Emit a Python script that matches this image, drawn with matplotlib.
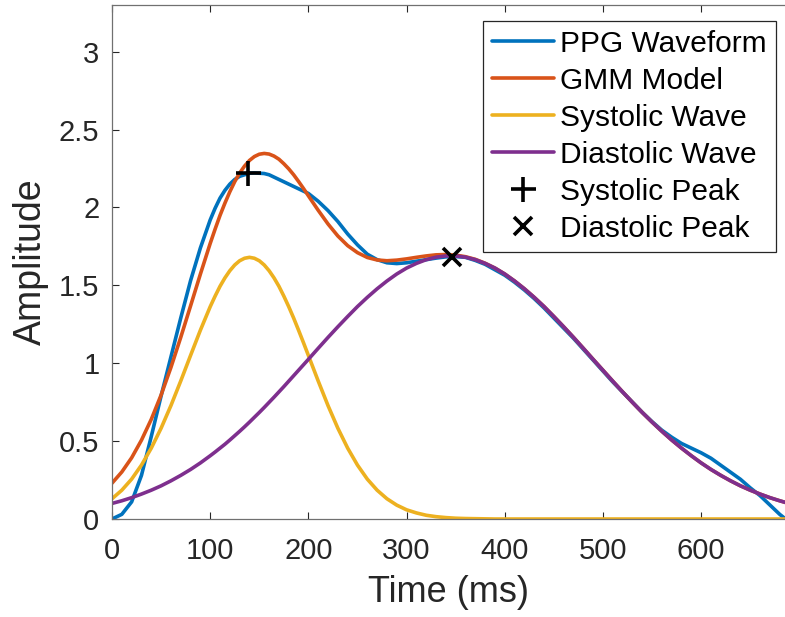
"""
PPG waveform decomposed with a two-Gaussian mixture (systolic + diastolic wave).
"""

import matplotlib
matplotlib.use("Agg")
import matplotlib.pyplot as plt
import numpy as np

# sampling times (ms) - finer around the systolic peak
time_ms = np.array([
    0, 10, 20, 30, 40, 50, 60, 70, 80, 90, 100,
    105, 110, 115, 120, 125, 130, 135, 140, 145, 150,
    155, 160, 165, 170, 175, 180, 185, 190, 195,
    200, 210, 220, 230, 240, 250, 260, 270, 280, 290,
    300, 310, 320, 330, 340, 350, 360, 370, 380, 390,
    400, 410, 420, 430, 440, 450, 460, 470, 480, 490,
    500, 510, 520, 530, 540, 550, 560, 570, 580, 590,
    600, 610, 620, 630, 640, 650, 660, 670, 680, 686,
])

ppg = np.array([
    0.00, 0.03, 0.11, 0.28, 0.53, 0.79, 1.04, 1.29, 1.53, 1.74, 1.92,
    1.995, 2.06, 2.11, 2.15, 2.18, 2.20, 2.21, 2.22, 2.222, 2.22,
    2.218, 2.21, 2.195, 2.18, 2.165, 2.15, 2.135, 2.12, 2.105,
    2.09, 2.04, 1.98, 1.91, 1.83, 1.76, 1.70, 1.665, 1.645, 1.64,
    1.645, 1.655, 1.665, 1.675, 1.683, 1.685, 1.68, 1.66, 1.635, 1.60,
    1.565, 1.52, 1.47, 1.415, 1.355, 1.29, 1.225, 1.16, 1.09, 1.02,
    0.95, 0.88, 0.815, 0.75, 0.685, 0.625, 0.57, 0.525, 0.485, 0.455,
    0.425, 0.39, 0.345, 0.30, 0.255, 0.20, 0.15, 0.09, 0.03, 0.00,
])

gmm = np.array([
    0.230, 0.302, 0.393, 0.506, 0.640, 0.796, 0.973, 1.166, 1.368, 1.572, 1.769,
    1.861, 1.949, 2.028, 2.101, 2.166, 2.221, 2.266, 2.302, 2.327, 2.342,
    2.347, 2.343, 2.330, 2.310, 2.281, 2.248, 2.210, 2.167, 2.122,
    2.075, 1.982, 1.894, 1.817, 1.755, 1.710, 1.679, 1.663, 1.658, 1.662,
    1.670, 1.680, 1.689, 1.696, 1.698, 1.694, 1.684, 1.667, 1.642, 1.611,
    1.573, 1.528, 1.478, 1.423, 1.364, 1.300, 1.234, 1.166, 1.096, 1.025,
    0.955, 0.885, 0.816, 0.749, 0.684, 0.622, 0.563, 0.507, 0.455, 0.406,
    0.360, 0.318, 0.280, 0.245, 0.213, 0.185, 0.160, 0.137, 0.117, 0.106,
])

systolic = np.array([
    0.130, 0.185, 0.256, 0.346, 0.455, 0.583, 0.728, 0.886, 1.050, 1.212, 1.363,
    1.431, 1.494, 1.548, 1.594, 1.631, 1.658, 1.674, 1.680, 1.674, 1.658,
    1.631, 1.594, 1.548, 1.494, 1.431, 1.363, 1.290, 1.212, 1.132,
    1.050, 0.886, 0.728, 0.583, 0.455, 0.346, 0.256, 0.185, 0.130, 0.089,
    0.059, 0.039, 0.024, 0.015, 0.009, 0.005, 0.003, 0.002, 0.001, 0.000,
    0.000, 0.000, 0.000, 0.000, 0.000, 0.000, 0.000, 0.000, 0.000, 0.000,
    0.000, 0.000, 0.000, 0.000, 0.000, 0.000, 0.000, 0.000, 0.000, 0.000,
    0.000, 0.000, 0.000, 0.000, 0.000, 0.000, 0.000, 0.000, 0.000, 0.000,
])

diastolic = np.array([
    0.100, 0.117, 0.137, 0.160, 0.185, 0.213, 0.245, 0.280, 0.318, 0.360, 0.406,
    0.430, 0.455, 0.480, 0.507, 0.535, 0.563, 0.592, 0.622, 0.653, 0.684,
    0.716, 0.749, 0.782, 0.816, 0.850, 0.885, 0.920, 0.955, 0.990,
    1.025, 1.096, 1.166, 1.234, 1.300, 1.364, 1.423, 1.478, 1.528, 1.573,
    1.611, 1.641, 1.665, 1.681, 1.689, 1.689, 1.681, 1.665, 1.641, 1.611,
    1.573, 1.528, 1.478, 1.423, 1.364, 1.300, 1.234, 1.166, 1.096, 1.025,
    0.955, 0.885, 0.816, 0.749, 0.684, 0.622, 0.563, 0.507, 0.455, 0.406,
    0.360, 0.318, 0.280, 0.245, 0.213, 0.185, 0.160, 0.137, 0.117, 0.106,
])

sys_peak = (139, 2.22)
dia_peak = (346, 1.685)

X_TICKS = [0, 100, 200, 300, 400, 500, 600]
Y_TICKS = [0, 0.5, 1, 1.5, 2, 2.5, 3]
Y_TICK_LABELS = ["0", "0.5", "1", "1.5", "2", "2.5", "3"]

plt.rcParams["font.family"] = ["Liberation Sans", "DejaVu Sans"]

W, H = 785, 617
fig = plt.figure(figsize=(W / 100, H / 100), dpi=100)
ax = fig.add_axes([112 / W, (H - 519) / H, 673.6 / W, 514 / H])

line_kw = dict(lw=2.6, solid_joinstyle="round", solid_capstyle="round")
ax.plot(time_ms, ppg, color="#0072BD", label="PPG Waveform", **line_kw)
ax.plot(time_ms, gmm, color="#D95319", label="GMM Model", **line_kw)
ax.plot(time_ms, systolic, color="#EDB120", label="Systolic Wave", **line_kw)
ax.plot(time_ms, diastolic, color="#7E2F8E", label="Diastolic Wave", **line_kw)
ax.plot(*sys_peak, ls="none", marker="+", ms=18, mew=2.6, color="black",
        label="Systolic Peak")
ax.plot(*dia_peak, ls="none", marker="x", ms=13, mew=2.6, color="black",
        label="Diastolic Peak")

ax.set_xlim(0, 686)
ax.set_ylim(0, 3.3)
ax.set_xticks(X_TICKS)
ax.set_yticks(Y_TICKS)
ax.set_yticklabels(Y_TICK_LABELS)

ax.tick_params(direction="in", length=5, width=0.8, colors="#262626",
               labelsize=21, top=True)
ax.tick_params(axis="x", pad=13)
ax.tick_params(axis="y", pad=9)

for name, spine in ax.spines.items():
    spine.set_color("#707070")
    spine.set_linewidth(0.9)
ax.spines["right"].set_visible(False)

ax.set_xlabel("Time (ms)", fontsize=26, color="#262626", labelpad=7)
ax.set_ylabel("Amplitude", fontsize=27, color="#262626", labelpad=7)

leg = ax.legend(loc="upper right", bbox_to_anchor=(0.9857, 0.9689),
                borderaxespad=0, fontsize=21.5, handlelength=2.1,
                handletextpad=0.2, labelspacing=0.3, borderpad=0.3,
                fancybox=False, framealpha=1, edgecolor="#262626")
leg.get_frame().set_linewidth(0.9)

fig.savefig("out.png", dpi=100)
